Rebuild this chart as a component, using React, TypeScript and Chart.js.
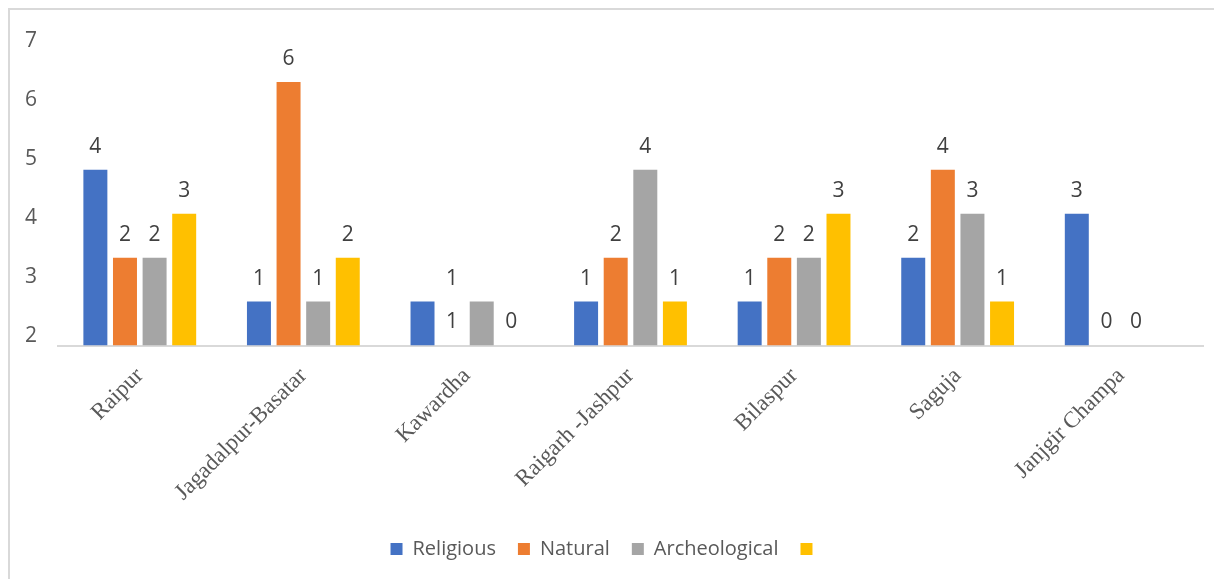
import { useEffect, useRef } from "react";
import { Chart, registerables } from "chart.js";

Chart.register(...registerables);

const categories = [
  "Raipur",
  "Jagadalpur-Basatar",
  "Kawardha",
  "Raigarh -Jashpur",
  "Bilaspur",
  "Saguja",
  "Janjgir Champa",
];
const seriesNames = ["Religious", "Natural", "Archeological", ""];
const religious = [4, 1, 1, 1, 1, 2, 3];
const natural = [2, 6, 0, 2, 2, 4, 0];
const archeological = [2, 1, 1, 4, 2, 3, 0];
const fourth = [3, 2, 0, 1, 3, 1, 0];

const religiousLabels = ["4", "1", "", "1", "1", "2", "3"];
const naturalLabels = ["2", "6", "1", "2", "2", "4", "0"];
const archeologicalLabels = ["2", "1", "", "4", "2", "3", "0"];
const fourthLabels = ["3", "2", "0", "1", "3", "1", ""];
// stray label in the source chart: Kawardha, "Natural" slot, drawn at level 1
const extraLabels = [{ category: 2, series: 1, level: 1, text: "1" }];

const axisTickLabels = [2, 3, 4, 5, 6, 7];
const axisMin = 1.84;
const axisMax = 6.95;
const dataMax = 6.875;

const colors = ["#4472C4", "#ED7D31", "#A5A5A5", "#FFC000"];

export default function App() {
  const ref = useRef<HTMLCanvasElement | null>(null);

  useEffect(() => {
    document.body.style.overflow = "hidden";
    const canvas = ref.current;
    if (!canvas) return;
    const seriesValues = [religious, natural, archeological, fourth];
    const seriesLabels = [religiousLabels, naturalLabels, archeologicalLabels, fourthLabels];

    const labelPlugin = {
      id: "barLabels",
      afterDatasetsDraw(chart: any) {
        const ctx = chart.ctx;
        const yScale = chart.scales.y;
        ctx.save();
        ctx.font = '21px "Open Sans"';
        ctx.fillStyle = "#404040";
        ctx.textAlign = "center";
        ctx.textBaseline = "middle";
        seriesLabels.forEach((labels, di) => {
          const meta = chart.getDatasetMeta(di);
          labels.forEach((t, i) => {
            if (!t) return;
            const el = meta.data[i];
            ctx.fillText(t, el.x, el.y - 23);
          });
        });
        extraLabels.forEach((e) => {
          const meta = chart.getDatasetMeta(e.series);
          const el = meta.data[e.category];
          ctx.fillText(e.text, el.x, yScale.getPixelForValue(e.level) - 23);
        });
        ctx.restore();
      },
    };

    const chart = new Chart(canvas, {
      type: "bar",
      data: {
        labels: categories,
        datasets: seriesValues.map((vals, i) => ({
          label: seriesNames[i],
          data: vals,
          backgroundColor: colors[i],
          borderWidth: 0,
          yAxisID: "y",
          categoryPercentage: 0.724,
          barPercentage: 0.81,
        })),
      },
      options: {
        responsive: false,
        animation: false,
        layout: { padding: { top: 27, right: 19, left: 0, bottom: 10 } },
        scales: {
          x: {
            grid: { display: false, drawTicks: false },
            border: { display: true, color: "#d9d9d9", width: 2 },
            ticks: {
              minRotation: 45,
              maxRotation: 45,
              padding: 17,
              color: "#595959",
              font: { family: '"Liberation Serif", "Times New Roman", serif', size: 23 },
            },
            afterFit(scale: any) {
              scale.height = 171.5;
            },
          },
          y: {
            display: false,
            min: 0,
            max: dataMax,
          },
          y2: {
            position: "left",
            min: axisMin,
            max: axisMax,
            grid: { display: false, drawTicks: false },
            border: { display: false },
            ticks: {
              padding: 21,
              color: "#595959",
              font: { family: '"Open Sans", sans-serif', size: 21 },
            },
            afterBuildTicks(scale: any) {
              scale.ticks = axisTickLabels.map((v) => ({ value: v }));
            },
            afterFit(scale: any) {
              scale.width = 48;
            },
          },
        },
        plugins: {
          legend: {
            position: "bottom",
            labels: {
              boxWidth: 12,
              boxHeight: 12,
              padding: 22,
              color: "#595959",
              font: { family: '"Open Sans", sans-serif', size: 20 },
            },
          },
          tooltip: { enabled: false },
        },
      },
      plugins: [labelPlugin],
    });
    return () => chart.destroy();
  }, []);

  return (
    <div
      style={{
        width: 1214,
        height: 571,
        borderTop: "2px solid #d9d9d9",
        borderLeft: "2px solid #d9d9d9",
        boxSizing: "border-box",
        background: "#fff",
      }}
    >
      <canvas ref={ref} width={1212} height={569} style={{ display: "block" }} />
    </div>
  );
}
